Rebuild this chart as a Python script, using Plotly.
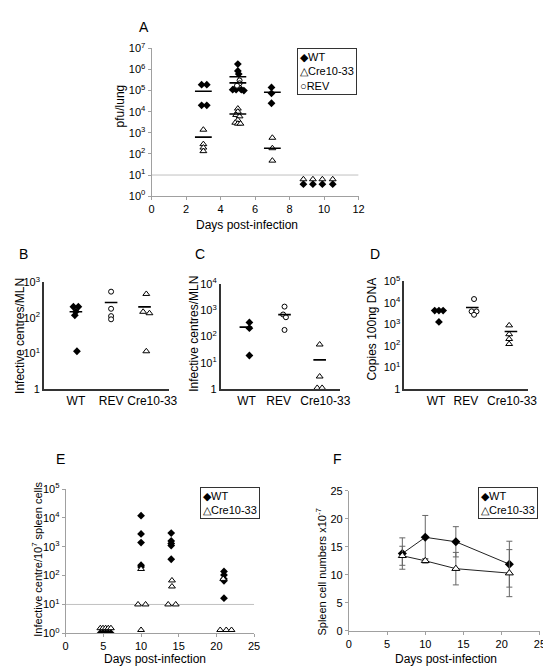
import plotly.graph_objects as go

W, H = 551, 667
def fx(px): return px / W
def fy(py): return 1 - py / H

# ---------------- Panel A data (pfu/lung) ----------------
A_wt_day = [2.9, 3.2, 2.9, 3.2, 5.0, 5.0, 5.05, 4.9, 4.7, 4.9, 5.2, 5.35, 6.95, 6.95, 6.95, 8.8, 9.35, 9.9, 10.5]
A_wt_val = [1.9e5, 1.9e5, 2e4, 2e4, 1.8e6, 8.5e5, 6e5, 1.4e5, 1.1e5, 1.1e5, 1.1e5, 1.0e5, 1.4e5, 7.4e4, 2.5e4, 3.7, 3.7, 3.7, 3.7]
A_cre_day = [3.0, 3.0, 3.0, 3.0, 5.0, 5.0, 4.9, 5.1, 5.0, 4.85, 5.0, 5.15, 7.0, 7.0, 7.0, 8.8, 9.35, 9.9, 10.5]
A_cre_val = [1.4e3, 290, 200, 135, 1.4e4, 1e4, 7e3, 6e3, 4e3, 3e3, 2.7e3, 2.7e3, 580, 186, 48, 6.3, 6.3, 6.3, 6.3]
A_rev_day = [5.1, 5.1, 4.95]
A_rev_val = [3e5, 2.2e5, 1.7e5]
A_mean_day = [3, 3, 5, 5, 5, 7, 7]
A_mean_val = [9.3e4, 620, 4.5e5, 2.3e5, 7.7e3, 8.3e4, 186]

# ---------------- Panel B data (infective centres/MLN) ----------------
cat_labels = ["WT", "REV", "Cre10-33"]
B_wt_x = [0.93, 1.07, 1.0, 0.97, 1.03]
B_wt = [205, 205, 150, 118, 11.5]
B_rev_x = [2.0, 2.0, 2.0, 2.0]
B_rev = [545, 180, 112, 91]
B_cre_x = [3.0, 2.91, 3.09, 3.0]
B_cre = [470, 148, 135, 11.5]
B_mean_x = [1.0, 2.0, 2.95]
B_mean = [148, 270, 204]

# ---------------- Panel C data ----------------
C_wt_x = [1.0, 1.0, 1.0]
C_wt = [350, 210, 19]
C_rev_x = [2.0, 1.96, 2.04, 2.0]
C_rev = [1400, 700, 550, 180]
C_cre_x = [3.0, 3.0, 2.93, 3.07]
C_cre = [50, 3, 1.1, 1.1]
C_mean_x = [0.9, 2.0, 3.0]
C_mean = [230, 690, 13]

# ---------------- Panel D data (copies / 100ng DNA) ----------------
D_wt_x = [0.88, 1.0, 1.12, 1.0]
D_wt = [4400, 4400, 4400, 1300]
D_rev_x = [2.0, 1.93, 2.07, 2.0]
D_rev = [15000, 4000, 4000, 2800]
D_cre_x = [3.0, 3.0, 3.0, 3.0]
D_cre = [900, 350, 210, 123]
D_mean_x = [1.95, 3.05]
D_mean = [6100, 470]

# ---------------- Panel E data (infective centre / 10^7 spleen cells) ----------------
E_wt_day = [4.6, 4.95, 5.3, 5.65, 6.0, 10, 10, 10, 10, 10, 14, 14, 14, 14, 14, 21, 21, 21, 21, 21]
E_wt_val = [1, 1, 1, 1, 1, 1.2e4, 2.8e3, 1.4e3, 230, 200, 3e3, 1.6e3, 1.3e3, 1.1e3, 370, 140, 105, 77, 66, 16.5]
E_cre_day = [4.6, 4.95, 5.3, 5.65, 6.0, 10, 9.6, 10.6, 10, 14.1, 14.1, 13.6, 14.6, 20.9, 20.5, 21.3, 22.0]
E_cre_val = [1.5, 1.5, 1.5, 1.5, 1.5, 170, 10, 10, 1.3, 68, 42, 10, 10, 77, 1.3, 1.3, 1.3]

# ---------------- Panel F data (spleen cell numbers) ----------------
F_day = [7, 10, 14, 21]
F_wt = [13.8, 16.7, 15.9, 11.9]
F_wt_err = [2.8, 3.9, 2.7, 4.1]
F_cre = [13.4, 12.5, 11.1, 10.3]
F_cre_err = [1.7, 0.4, 2.9, 4.2]

FONT = "Liberation Sans, Arial, sans-serif"
fig = go.Figure()

def wt(x, y, xa, ya, size=6):
    fig.add_trace(go.Scatter(x=x, y=y, mode="markers", xaxis=xa, yaxis=ya, showlegend=False,
                             marker=dict(symbol="diamond", size=size, color="black")))

def cre(x, y, xa, ya, size=6):
    fig.add_trace(go.Scatter(x=x, y=y, mode="markers", xaxis=xa, yaxis=ya, showlegend=False,
                             marker=dict(symbol="triangle-up", size=size, color="white",
                                         line=dict(color="black", width=1))))

def rev(x, y, xa, ya, size=5):
    fig.add_trace(go.Scatter(x=x, y=y, mode="markers", xaxis=xa, yaxis=ya, showlegend=False,
                             marker=dict(symbol="circle", size=size, color="white",
                                         line=dict(color="black", width=1))))

def mean(x, y, xa, ya, size=11):
    fig.add_trace(go.Scatter(x=x, y=y, mode="markers", xaxis=xa, yaxis=ya, showlegend=False,
                             marker=dict(symbol="line-ew", size=size, color="black",
                                         line=dict(color="black", width=1.6))))

# Reference lines at 10^1
fig.add_trace(go.Scatter(x=[0, 12], y=[10, 10], mode="lines", xaxis="x", yaxis="y", showlegend=False,
                         line=dict(color="#c0c0c0", width=1)))
fig.add_trace(go.Scatter(x=[0, 25], y=[10, 10], mode="lines", xaxis="x5", yaxis="y5", showlegend=False,
                         line=dict(color="#c0c0c0", width=1)))

# Panel A
wt(A_wt_day, A_wt_val, "x", "y")
cre(A_cre_day, A_cre_val, "x", "y")
rev(A_rev_day, A_rev_val, "x", "y")
mean(A_mean_day, A_mean_val, "x", "y", 12)

# Panel B
wt(B_wt_x, B_wt, "x2", "y2")
rev(B_rev_x, B_rev, "x2", "y2")
cre(B_cre_x, B_cre, "x2", "y2")
mean(B_mean_x, B_mean, "x2", "y2", 9)

# Panel C
wt(C_wt_x, C_wt, "x3", "y3")
rev(C_rev_x, C_rev, "x3", "y3")
cre(C_cre_x, C_cre, "x3", "y3")
mean(C_mean_x, C_mean, "x3", "y3", 9)

# Panel D
wt(D_wt_x, D_wt, "x4", "y4")
rev(D_rev_x, D_rev, "x4", "y4")
cre(D_cre_x, D_cre, "x4", "y4")
mean(D_mean_x, D_mean, "x4", "y4", 9)

# Panel E
wt(E_wt_day, E_wt_val, "x5", "y5")
cre(E_cre_day, E_cre_val, "x5", "y5")

# Panel F
fig.add_trace(go.Scatter(x=F_day, y=F_wt, mode="lines+markers", xaxis="x6", yaxis="y6", showlegend=False,
                         line=dict(color="#222", width=1),
                         marker=dict(symbol="diamond", size=7, color="black"),
                         error_y=dict(type="data", array=F_wt_err, color="#666", thickness=1, width=3)))
fig.add_trace(go.Scatter(x=F_day, y=F_cre, mode="lines+markers", xaxis="x6", yaxis="y6", showlegend=False,
                         line=dict(color="#222", width=1),
                         marker=dict(symbol="triangle-up", size=7, color="white", line=dict(color="black", width=1)),
                         error_y=dict(type="data", array=F_cre_err, color="#666", thickness=1, width=3)))

def pow_ticks(n0, n1, one_label=False):
    vals = [10 ** k for k in range(n0, n1 + 1)]
    txt = [("1" if (k == 0 and one_label) else f"10<sup>{k}</sup>") for k in range(n0, n1 + 1)]
    return vals, txt

light = dict(showline=True, linecolor="#a0a0a0", linewidth=1, ticks="outside", tickcolor="#a0a0a0",
             ticklen=3, showgrid=False, zeroline=False, tickfont=dict(size=11, color="black"))
dark = dict(showline=True, linecolor="#333", linewidth=2, ticks="", showgrid=False, zeroline=False,
            tickfont=dict(size=12, color="black"))

a_v, a_t = pow_ticks(0, 7)
b_v, b_t = pow_ticks(0, 3, True)
c_v, c_t = pow_ticks(0, 4, True)
d_v, d_t = pow_ticks(0, 5, True)
e_v, e_t = pow_ticks(0, 5)

layout = dict(
    width=W, height=H, margin=dict(l=0, r=0, t=0, b=0),
    paper_bgcolor="white", plot_bgcolor="white",
    font=dict(family=FONT, color="black", size=11),
    xaxis=dict(domain=[fx(144), fx(356)], range=[0, 12], dtick=2, anchor="y", **light),
    yaxis=dict(domain=[fy(184), fy(33)], type="log", range=[0, 7], tickvals=a_v, ticktext=a_t,
               anchor="x", **light),
    xaxis2=dict(domain=[fx(34), fx(162)], range=[0.1, 3.65], tickvals=[1, 2, 3.17], ticktext=cat_labels,
                anchor="y2", **dark),
    yaxis2=dict(domain=[fy(381), fy(272)], type="log", range=[0, 3], tickvals=b_v, ticktext=b_t,
                anchor="x2", **dark),
    xaxis3=dict(domain=[fx(215), fx(337)], range=[0.19, 3.58], tickvals=[0.92, 1.83, 3.16], ticktext=cat_labels,
                anchor="y3", **dark),
    yaxis3=dict(domain=[fy(381), fy(274)], type="log", range=[0, 4], tickvals=c_v, ticktext=c_t,
                anchor="x3", **dark),
    xaxis4=dict(domain=[fx(403), fx(530)], range=[0.02, 3.55], tickvals=[0.92, 1.77, 3.08], ticktext=cat_labels,
                anchor="y4", **dark),
    yaxis4=dict(domain=[fy(381), fy(271)], type="log", range=[0, 5], tickvals=d_v, ticktext=d_t,
                anchor="x4", **dark),
    xaxis5=dict(domain=[fx(56), fx(249)], range=[0, 25], dtick=5, anchor="y5", **light),
    yaxis5=dict(domain=[fy(630.5), fy(483.3)], type="log", range=[0, 5], tickvals=e_v, ticktext=e_t,
                anchor="x5", **light),
    xaxis6=dict(domain=[fx(346), fx(541.7)], range=[0, 25], dtick=5, anchor="y6", **light),
    yaxis6=dict(domain=[fy(628), fy(485)], range=[0, 25], dtick=5, anchor="x6", **light),
)
fig.update_layout(**layout)
for ax in ["yaxis2", "yaxis3", "yaxis4"]:
    fig.layout[ax].tickfont = dict(size=11, color="black")

anns = []
def ann(text, px, py, size=12, angle=0, xanchor="center", yanchor="middle", **kw):
    anns.append(dict(text=text, x=fx(px), y=fy(py), xref="paper", yref="paper", showarrow=False,
                     font=dict(size=size, family=FONT, color="black"), textangle=angle,
                     xanchor=xanchor, yanchor=yanchor, **kw))

# panel letters
ann("A", 136, 11, 14)
ann("B", 13, 243, 14)
ann("C", 194, 243, 14)
ann("D", 373, 243, 14)
ann("E", 51, 453, 14)
ann("F", 334, 453, 14)

# axis titles
ann("pfu/lung", 112, 92, 12, -90)
ann("Days post-infection", 242, 213, 12)
ann("Infective centres/MLN", 9, 327, 12, -90)
ann("Infective centres/MLN", 188, 325, 12, -90)
ann("Copies 100ng DNA", 370, 320, 12, -90)
ann("Infective centre/10<sup>7</sup> spleen cells", 27, 555, 11, -90)
ann("Days post-infection", 147, 657, 12)
ann("Spleen cell numbers x10<sup>-7</sup>", 318, 568, 11, -90)
ann("Days post-infection", 446, 657, 12)

# legends (boxed)
leg = dict(bordercolor="#333", borderwidth=1, borderpad=2, bgcolor="white", align="left")
ann("◆WT<br>△Cre10-33<br>○REV", 293, 33, 11, xanchor="left", yanchor="top", **leg)
ann("◆WT<br>△Cre10-33", 194, 481, 11, xanchor="left", yanchor="top", **leg)
ann("◆WT<br>△Cre10-33", 478, 481, 11, xanchor="left", yanchor="top", **leg)

fig.update_layout(annotations=anns)
fig.write_html("out.html")
